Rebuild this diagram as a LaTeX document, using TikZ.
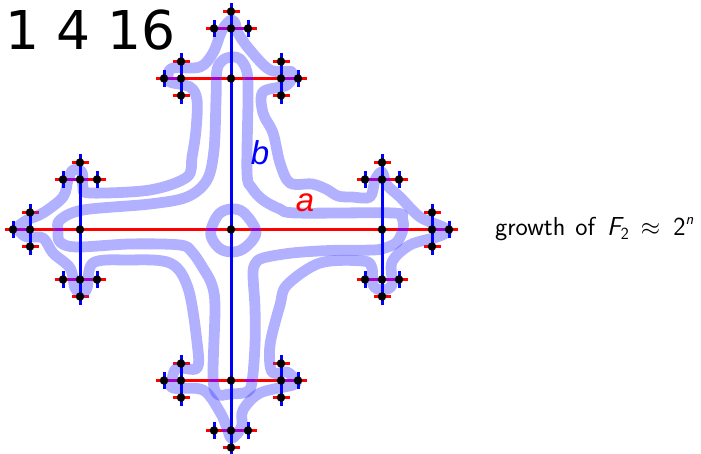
\documentclass[tikz,border=0pt]{standalone}
\usepackage{fontspec}
\usetikzlibrary{calc}
\newfontfamily\digitfont{DejaVu Sans}
\newfontfamily\labelfont{Liberation Sans}
\definecolor{loopblue}{RGB}{70,70,255}
\definecolor{overlap}{RGB}{165,0,195}
\pgfdeclarelayer{redlay}
\pgfdeclarelayer{looplay}
\pgfdeclarelayer{bluelay}
\pgfsetlayers{redlay,looplay,bluelay,main}
\tikzset{
  dot/.style={circle,fill=black,inner sep=0pt,minimum size=8.5pt},
  loopline/.style={draw=loopblue,opacity=.42,line width=10.8pt,line join=round},
  edge/.style={line width=3pt},
  overlapline/.style={draw=overlap,line width=3pt},
}
\begin{document}
\begin{tikzpicture}[x=1pt,y=-1pt]
\useasboundingbox (0,0) rectangle (701,454);
\coordinate (c) at (231,229.5);
% tree edges (level by level)
\foreach \da/\ax/\ay/\ca in {R/1/0/red,U/0/-1/blue,L/-1/0/red,D/0/1/blue}{
  \coordinate (n\da) at ($(c)+(151*\ax,151*\ay)$);
}
\foreach \da/\ax/\ay/\ca in {R/1/0/red,U/0/-1/blue,L/-1/0/red,D/0/1/blue}{
  \foreach \db/\bx/\by/\cb in {R/1/0/red,U/0/-1/blue,L/-1/0/red,D/0/1/blue}{
    \pgfmathtruncatemacro\skipb{(\ax+\bx==0)&&(\ay+\by==0)}
    \ifnum\skipb=0
      \coordinate (n\da\db) at ($(c)+(151*\ax+50*\bx,151*\ay+50*\by)$);
      \foreach \dc/\cx/\cy/\cc in {R/1/0/red,U/0/-1/blue,L/-1/0/red,D/0/1/blue}{
        \pgfmathtruncatemacro\skipc{(\bx+\cx==0)&&(\by+\cy==0)}
        \ifnum\skipc=0
          \coordinate (n\da\db\dc) at ($(n\da\db)+(17*\cx,17*\cy)$);
          \foreach \dd/\ex/\ey/\ce in {R/1/0/red,U/0/-1/blue,L/-1/0/red,D/0/1/blue}{
            \pgfmathtruncatemacro\skipd{(\cx+\ex==0)&&(\cy+\ey==0)}
            \ifnum\skipd=0
              \coordinate (s\da\db\dc\dd) at ($(n\da\db\dc)+(8.5*\ex,8.5*\ey)$);
              \begin{pgfonlayer}{\ce lay}
              \draw[edge,draw=\ce] (n\da\db\dc) -- (s\da\db\dc\dd);
              \end{pgfonlayer}
            \fi
          }
          \begin{pgfonlayer}{\cc lay}
          \draw[edge,draw=\cc] (n\da\db) -- (n\da\db\dc);
          \end{pgfonlayer}
        \fi
      }
      \begin{pgfonlayer}{\cb lay}
      \draw[edge,draw=\cb] (n\da) -- (n\da\db);
      \end{pgfonlayer}
    \fi
  }
  \begin{pgfonlayer}{\ca lay}
  \draw[edge,draw=\ca] (c) -- (n\da);
  \end{pgfonlayer}
}
% loops
\begin{pgfonlayer}{looplay}
\draw[loopline] plot[smooth cycle,tension=.6] coordinates {
 (231,209) (243,212) (255,228) (254,238) (243,249) (231,252) (219,248) (211,236) (213,224) (220,213)};
\draw[loopline] plot[smooth cycle,tension=.55] coordinates {
 (232,57) (240,59) (247,72) (248,100) (247,173) (252,188) (263,200) (280,209) (297,213) (393,213) (402,218) (403,229) (397,242) (385,248) (373,250) (330,250.5) (292,253) (263,258) (255,264) (253,275) (255,308) (255,345) (252,382) (247,392) (230,394) (217,394) (213,375) (215,308) (212,285) (203,268) (192,252) (180,245) (130,244) (77,247) (60,242) (58,230) (60,220) (83,210) (150,204) (187,197) (207,180) (214,150) (216,100) (217,70) (223,60)};
\draw[loopline] plot[smooth cycle,tension=.55] coordinates {
 (231,20) (224,27) (220,35) (213,53) (200,67) (173,68) (168,75) (170,82) (190,87) (197,100) (196,130) (192,157) (187,177) (150,190) (90,193) (83,187) (82,172) (73,170) (68,180) (63,197) (43,213) (27,220) (18,227) (20,232) (27,237) (43,238) (53,253) (70,268) (75,288) (82,293) (87,288) (93,263) (127,260) (170,263) (188,288) (197,342) (197,368) (177,368) (172,380) (173,388) (203,390) (220,412) (227,428) (231,438) (237,434) (242,425) (243,410) (260,393) (293,385) (295,380) (287,372) (272,372) (270,345) (280,305) (287,285) (320,263) (363,261) (372,268) (373,285) (382,290) (392,285) (392,262) (410,245) (437,237) (447,232) (443,227) (420,217) (400,197) (387,185) (382,172) (375,180) (370,197) (352,197) (338,196) (326,189) (312,184) (290,183) (280,163) (273,133) (263,113) (263,92) (287,85) (292,72) (270,70) (250,50) (238,33) (235,23)};
\foreach \y/\a/\b in {229.5/17/28,229.5/55/63,229.5/207/217,229.5/252/260,229.5/398/408,229.5/433/445,
  78.5/167/177,78.5/212/220,78.5/245/253,78.5/285/295,
  28.5/218/230,28.5/232/245,
  179.5/67/88,179.5/368/390,
  279.5/68/92,279.5/368/395,
  380.5/168/180,380.5/210/218,380.5/245/255,380.5/285/295,
  430.5/222/230,430.5/233/243}{
  \draw[overlapline] (\a,\y) -- (\b,\y);
}
\end{pgfonlayer}
% vertices
\node[dot] (c0) at (c) {};
\foreach \n in {R,U,L,D}{
  \node[dot] (v\n) at (n\n) {};
}
\foreach \p in {RR,RU,RD,UU,UR,UL,LL,LU,LD,DD,DR,DL}{
  \node[dot] (v\p) at (n\p) {};
}
\foreach \p/\q in {RR/R,RR/U,RR/D,RU/U,RU/R,RU/L,RD/D,RD/R,RD/L,UU/U,UU/R,UU/L,UR/R,UR/U,UR/D,UL/L,UL/U,UL/D,LL/L,LL/U,LL/D,LU/U,LU/R,LU/L,LD/D,LD/R,LD/L,DD/D,DD/R,DD/L,DR/R,DR/U,DR/D,DL/L,DL/U,DL/D}{
  \node[dot] (v\p\q) at (n\p\q) {};
}
\node[anchor=base west,inner sep=0pt] (count) at (5,50) {\digitfont\fontsize{53.5}{60}\selectfont 1 4 16};
\node[anchor=base,inner sep=0pt,text=red] (la) at (305,212) {\labelfont\itshape\fontsize{33}{36}\selectfont a};
\node[anchor=base,inner sep=0pt,text=blue] (lb) at (260,165) {\labelfont\itshape\fontsize{33}{36}\selectfont b};
\node[anchor=base west,inner sep=0pt] (gr) at (495,236) {\sffamily\fontsize{26}{30}\selectfont growth\hspace{10pt}of\hspace{12pt}{\itshape F}\raisebox{-4pt}{\fontsize{17}{20}\selectfont 2}\hspace{12pt}$\approx$\hspace{13pt}2\raisebox{11pt}{\itshape\fontsize{16}{18}\selectfont n}};
\end{tikzpicture}
\end{document}
